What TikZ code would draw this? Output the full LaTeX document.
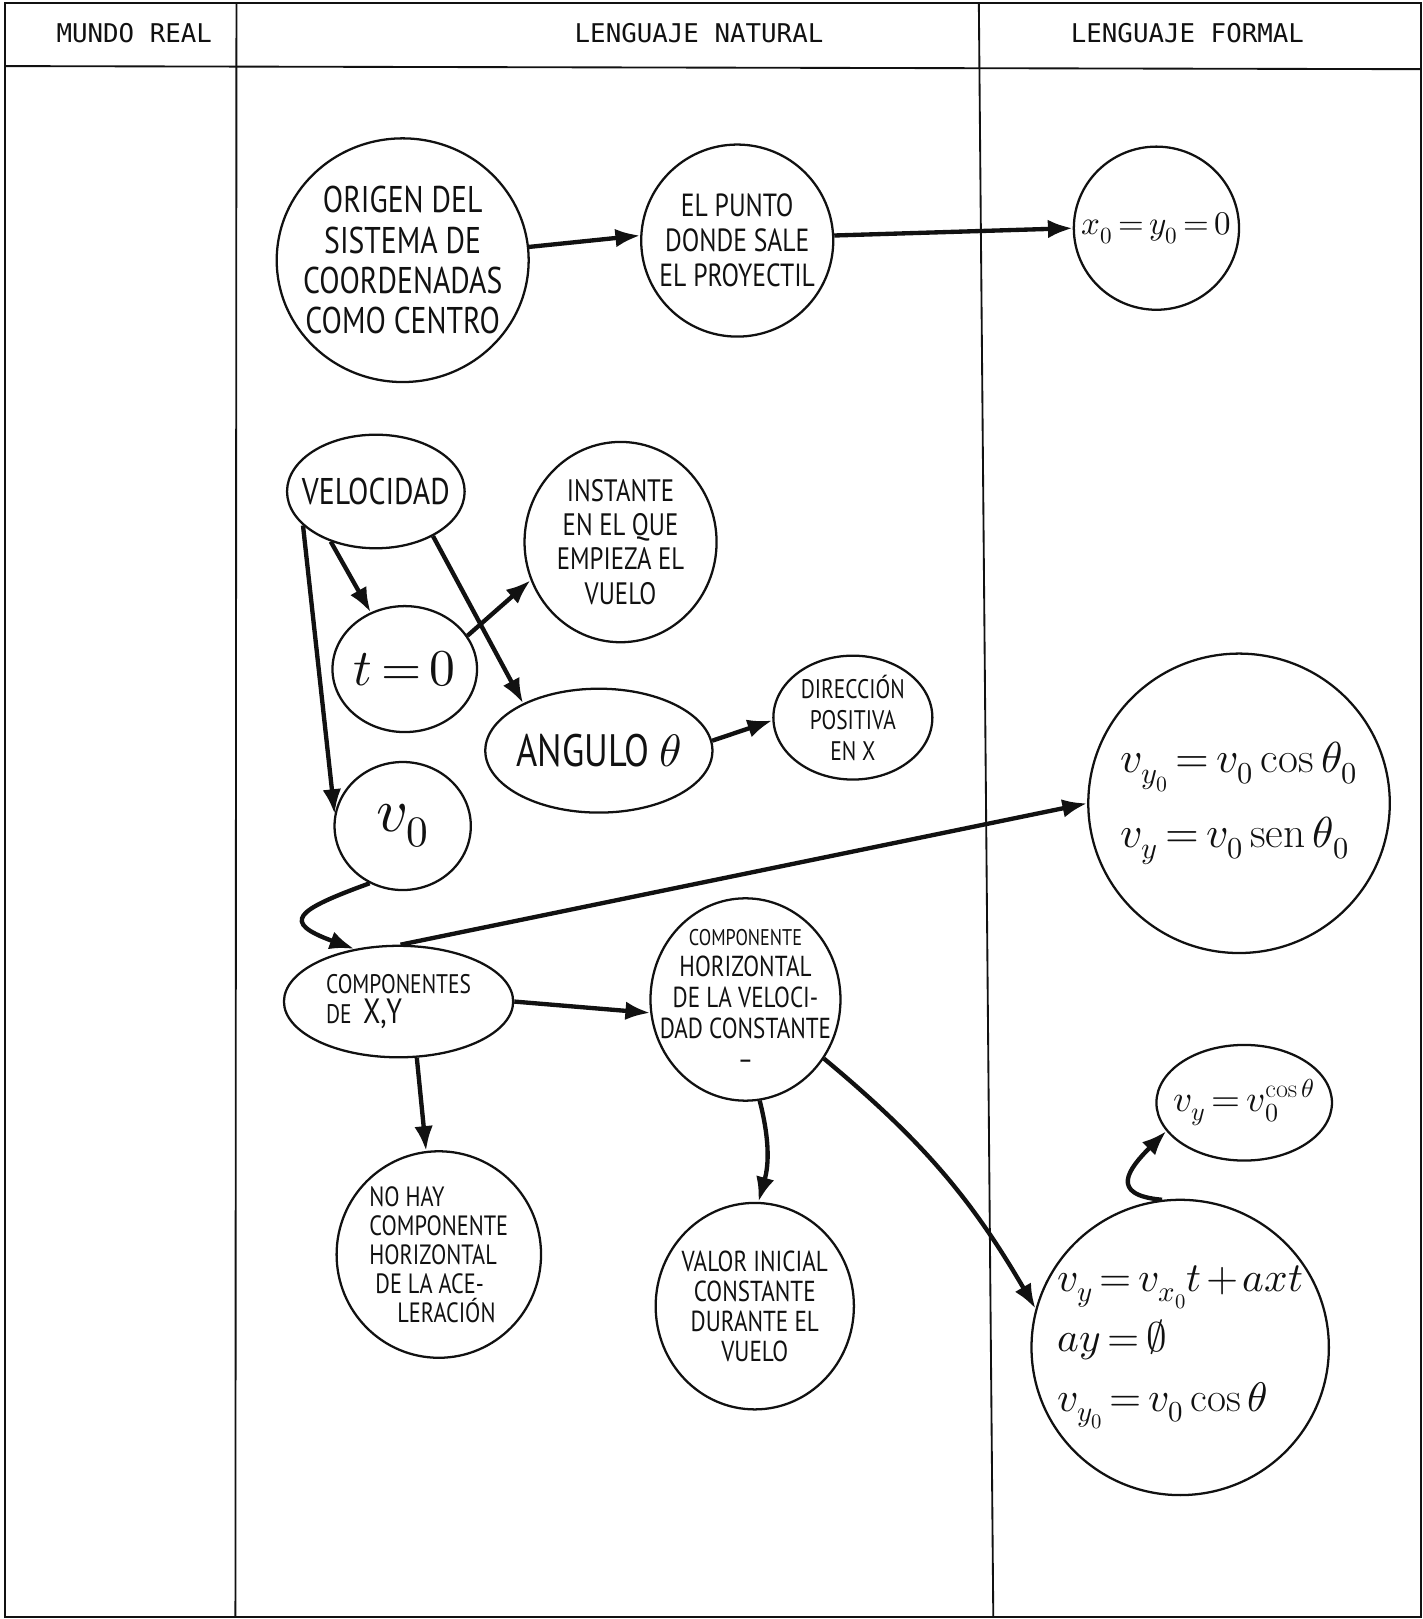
\documentclass[tikz,border=0pt]{standalone}
\usepackage{amsmath}
\usepackage{fontspec}
\usepackage{unicode-math}
\setmathfont{Latin Modern Math}
\setmonofont{DejaVu Sans Mono}
\newfontfamily\handfont[FakeStretch=0.8]{PT Sans}
\usepackage{tikz}
\usetikzlibrary{arrows.meta,shapes.geometric}
\definecolor{ink}{HTML}{111111}

\tikzset{
  bubble/.style={draw=ink,line width=2.2pt,ellipse,inner sep=-40pt,align=center,text=ink},
  formula/.style={execute at begin node={\thickmuskip=3mu\medmuskip=2mu}},
  link/.style={draw=ink,line width=4.2pt,-{Latex[length=24pt,width=18pt]}},
  frame/.style={draw=ink,line width=1.8pt},
  colhead/.style={font=\ttfamily\fontsize{25}{25}\selectfont,text=ink}
}

\begin{document}
\begin{tikzpicture}[x=1pt,y=-1pt]
  \useasboundingbox (0,0) rectangle (1378,1568);
  % table with three columns
  \draw[frame] (5,3) rectangle (1376,1566);
  \draw[frame] (5,64) -- (1376,67);
  \draw[frame] (229,3) -- (228,1566);
  \draw[frame] (948,3) -- (962,1566);
  \node[colhead] (hmundo) at (130,32) {MUNDO REAL};
  \node[colhead] (hnatural) at (677,32) {LENGUAJE NATURAL};
  \node[colhead] (hformal) at (1150,32) {LENGUAJE FORMAL};

  % concepts
  \node[bubble,minimum width=244pt,minimum height=236pt,font=\handfont\fontsize{36}{39}\selectfont]
    (origen) at (390,252) {ORIGEN DEL\\SISTEMA DE\\COORDENADAS\\COMO CENTRO};
  \node[bubble,minimum width=186pt,minimum height=186pt,font=\handfont\fontsize{31}{34}\selectfont]
    (punto) at (714,233) {EL PUNTO\\DONDE SALE\\EL PROYECTIL};
  \node[bubble,formula,minimum width=160pt,minimum height=158pt,font=\fontsize{32}{32}\selectfont]
    (xcero) at (1120,221) {$x_0=y_0=0$};
  \node[bubble,minimum width=172pt,minimum height=110pt,font=\handfont\fontsize{36}{36}\selectfont]
    (veloc) at (364,476) {VELOCIDAD};
  \node[bubble,minimum width=186pt,minimum height=194pt,font=\handfont\fontsize{30}{33}\selectfont]
    (instante) at (601,525) {INSTANTE\\EN EL QUE\\EMPIEZA EL\\VUELO};
  \node[bubble,formula,minimum width=140pt,minimum height=122pt,font=\fontsize{50}{50}\selectfont]
    (tcero) at (392,648) {$t=0$};
  \node[bubble,minimum width=220pt,minimum height=120pt,font=\handfont\fontsize{44}{44}\selectfont]
    (angulo) at (580,727) {ANGULO $\theta$};
  \node[bubble,minimum width=154pt,minimum height=120pt,font=\handfont\fontsize{26}{30}\selectfont]
    (direccion) at (826,695) {DIRECCIÓN\\POSITIVA\\EN X};
  \node[bubble,minimum width=132pt,minimum height=124pt,font=\fontsize{60}{60}\selectfont]
    (vcero) at (390,800) {$v_0$};
  \node[bubble,formula,minimum width=292pt,minimum height=290pt,align=left,font=\fontsize{42}{72}\selectfont]
    (vcomp) at (1200,778) {$v_{y_0}=v_0\cos\theta_0$\\$v_y=v_0\,\mathrm{sen}\,\theta_0$};
  \node[bubble,minimum width=222pt,minimum height=108pt,align=left,font=\handfont\fontsize{26}{30}\selectfont]
    (compxy) at (386,970) {COMPONENTES\\DE\ \ {\fontsize{34}{34}\selectfont X,Y}};
  \node[bubble,minimum width=184pt,minimum height=196pt,font=\handfont\fontsize{28}{30}\selectfont]
    (horiz) at (722,968) {{\fontsize{22}{22}\selectfont COMPONENTE}\\HORIZONTAL\\DE LA VELOCI-\\DAD CONSTANTE\\–};
  \node[bubble,minimum width=198pt,minimum height=200pt,align=left,font=\handfont\fontsize{27}{28}\selectfont]
    (nohay) at (425,1215) {NO HAY\\COMPONENTE\\HORIZONTAL\\\ DE LA ACE-\\\quad LERACIÓN};
  \node[bubble,minimum width=192pt,minimum height=200pt,font=\handfont\fontsize{28}{29}\selectfont]
    (valor) at (731,1265) {VALOR INICIAL\\CONSTANTE\\DURANTE EL\\VUELO};
  \node[bubble,formula,minimum width=170pt,minimum height=112pt,font=\fontsize{36}{36}\selectfont]
    (vysmall) at (1205,1068) {$v_y=v_0^{\cos\theta}$};
  \node[bubble,formula,minimum width=288pt,minimum height=286pt,align=left,font=\fontsize{40}{58}\selectfont]
    (vylarge) at (1143,1305) {$v_y=v_{x_0}t+axt$\\$ay=\emptyset$\\$v_{y_0}=v_0\cos\theta$};

  % links
  \draw[link] (origen.6) -- (punto.177);
  \draw[link] (punto.3) -- (xcero.west);
  \draw[link] (veloc.228) -- (tcero.121);
  \draw[link] (veloc.-38) -- (angulo.148);
  \draw[link] (veloc.205) -- (vcero.170);
  \draw[link] (tcero.28) -- (instante.203);
  \draw[link] (angulo.5) -- (direccion.182);
  \draw[link] (vcero.240) to[out=200,in=160,looseness=3] (compxy.130);
  \draw[link] (compxy.88) -- (vcomp.180);
  \draw[link] (compxy.east) -- (horiz.188);
  \draw[link] (compxy.-72) -- (nohay.97);
  \draw[link] (horiz.-82) to[bend left=15] (valor.88);
  \draw[link] (horiz.-37) to[bend left=10] (vylarge.165);
  \draw[link] (vylarge.97) to[out=175,in=225,looseness=2] (vysmall.200);
\end{tikzpicture}
\end{document}
